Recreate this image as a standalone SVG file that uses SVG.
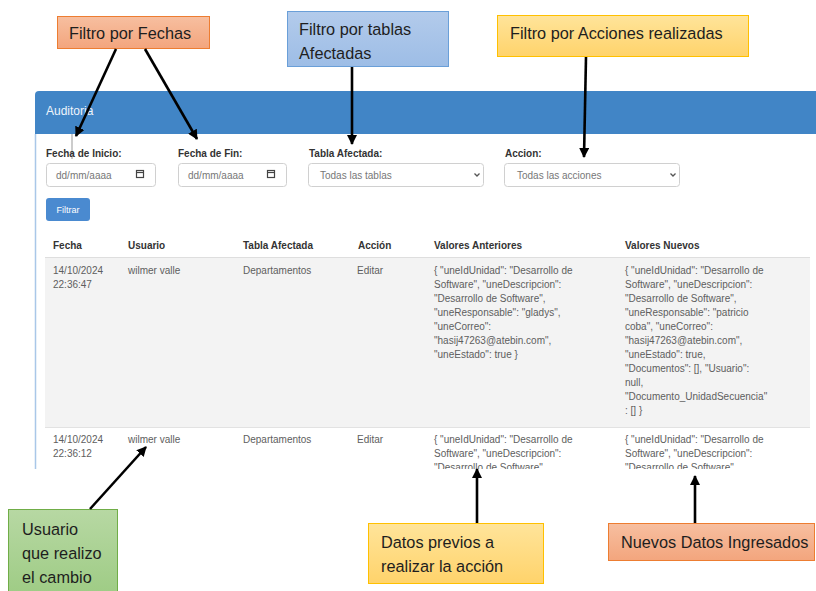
<svg xmlns="http://www.w3.org/2000/svg" width="816" height="591" viewBox="0 0 816 591">
<defs>
<style>
.ui{font-family:"Liberation Sans",Arial,sans-serif;font-size:10px;fill:#5e5e5e}
.lbl{font-family:"Liberation Sans",Arial,sans-serif;font-size:10px;font-weight:bold;fill:#333}
.ph{font-family:"Liberation Sans",Arial,sans-serif;font-size:10px;fill:#777}
.co{font-family:"Liberation Sans",Arial,sans-serif;font-size:16.3px;fill:#1e1e1e}
.inp{fill:#fff;stroke:#d0d0d0;stroke-width:1}
.conn{stroke:#000;stroke-width:2.6;fill:none}
</style>
<linearGradient id="gSal" x1="0" y1="0" x2="0" y2="1"><stop offset="0" stop-color="#f7bfa0"/><stop offset="1" stop-color="#f3a57d"/></linearGradient>
<linearGradient id="gBlue" x1="0" y1="0" x2="0" y2="1"><stop offset="0" stop-color="#b3cbeb"/><stop offset="1" stop-color="#9dbde6"/></linearGradient>
<linearGradient id="gYel" x1="0" y1="0" x2="0" y2="1"><stop offset="0" stop-color="#ffe49a"/><stop offset="1" stop-color="#ffd36b"/></linearGradient>
<linearGradient id="gGrn" x1="0" y1="0" x2="0" y2="1"><stop offset="0" stop-color="#b7d8a3"/><stop offset="1" stop-color="#9dcb83"/></linearGradient>
<marker id="ah" viewBox="0 0 10 10" refX="9" refY="5" markerWidth="10" markerHeight="10" markerUnits="userSpaceOnUse" orient="auto"><path d="M0,0 L10,5 L0,10 z" fill="#000"/></marker>
<clipPath id="shot"><rect x="0" y="88" width="816" height="381"/></clipPath>
</defs>

<g id="screenshot" clip-path="url(#shot)">
  <path d="M35,134 V95 a4,4 0 0 1 4,-4 H816 V134 Z" fill="#4185c6"/>
  <text x="46" y="115" font-family="Liberation Sans,Arial,sans-serif" font-size="12" fill="#eef4fb">Auditoria</text>
  <line x1="35.5" y1="134" x2="35.5" y2="470" stroke="#a9c7e8" stroke-width="1.5"/>
  <line x1="72" y1="134" x2="72" y2="159" stroke="#999" stroke-width="1"/>

  <text class="lbl" x="46" y="157">Fecha de Inicio:</text>
  <text class="lbl" x="178" y="157">Fecha de Fin:</text>
  <text class="lbl" x="309" y="157">Tabla Afectada:</text>
  <text class="lbl" x="505" y="157">Accion:</text>

  <rect class="inp" x="46.5" y="163.5" width="109" height="23" rx="3"/>
  <text class="ph" x="56" y="178.5">dd/mm/aaaa</text>
  <g fill="none" stroke="#444" stroke-width="1.2"><rect x="136.5" y="170.5" width="7" height="7"/><line x1="136.5" y1="172.5" x2="143.5" y2="172.5"/></g>
  <rect class="inp" x="178.5" y="163.5" width="108" height="23" rx="3"/>
  <text class="ph" x="188" y="178.5">dd/mm/aaaa</text>
  <g fill="none" stroke="#444" stroke-width="1.2"><rect x="267.5" y="170.5" width="7" height="7"/><line x1="267.5" y1="172.5" x2="274.5" y2="172.5"/></g>
  <rect class="inp" x="308.5" y="163.5" width="175" height="23" rx="3"/>
  <text class="ph" x="320" y="178.5">Todas las tablas</text>
  <polyline points="474.5,173.5 477,176 479.5,173.5" fill="none" stroke="#555" stroke-width="1.3"/>
  <rect class="inp" x="504.5" y="163.5" width="175" height="23" rx="3"/>
  <text class="ph" x="517" y="178.5">Todas las acciones</text>
  <polyline points="670.5,173.5 673,176 675.5,173.5" fill="none" stroke="#555" stroke-width="1.3"/>

  <rect x="46" y="198" width="44" height="23" rx="3" fill="#4a8ad0"/>
  <text x="68" y="213" text-anchor="middle" font-family="Liberation Sans,Arial,sans-serif" font-size="9" fill="#fff">Filtrar</text>

  <text class="lbl" x="53" y="249">Fecha</text>
  <text class="lbl" x="128" y="249">Usuario</text>
  <text class="lbl" x="243" y="249">Tabla Afectada</text>
  <text class="lbl" x="358" y="249">Acción</text>
  <text class="lbl" x="434" y="249">Valores Anteriores</text>
  <text class="lbl" x="625" y="249">Valores Nuevos</text>

  <rect x="45" y="257" width="765" height="170" fill="#f3f3f3"/>
  <line x1="45" y1="257.5" x2="810" y2="257.5" stroke="#dedede"/>
  <line x1="45" y1="427.5" x2="810" y2="427.5" stroke="#e2e2e2"/>

  <g class="ui">
    <text x="53" y="274">14/10/2024<tspan x="53" dy="14">22:36:47</tspan></text>
    <text x="128" y="274">wilmer valle</text>
    <text x="243" y="274">Departamentos</text>
    <text x="357" y="274">Editar</text>
    <text x="434" y="274">{ "uneIdUnidad": "Desarrollo de<tspan x="434" dy="14">Software", "uneDescripcion":</tspan><tspan x="434" dy="14">"Desarrollo de Software",</tspan><tspan x="434" dy="14">"uneResponsable": "gladys",</tspan><tspan x="434" dy="14">"uneCorreo":</tspan><tspan x="434" dy="14">"hasij47263@atebin.com",</tspan><tspan x="434" dy="14">"uneEstado": true }</tspan></text>
    <text x="625" y="274">{ "uneIdUnidad": "Desarrollo de<tspan x="625" dy="14">Software", "uneDescripcion":</tspan><tspan x="625" dy="14">"Desarrollo de Software",</tspan><tspan x="625" dy="14">"uneResponsable": "patricio</tspan><tspan x="625" dy="14">coba", "uneCorreo":</tspan><tspan x="625" dy="14">"hasij47263@atebin.com",</tspan><tspan x="625" dy="14">"uneEstado": true,</tspan><tspan x="625" dy="14">"Documentos": [], "Usuario":</tspan><tspan x="625" dy="14">null,</tspan><tspan x="625" dy="14">"Documento_UnidadSecuencia"</tspan><tspan x="625" dy="14">: [] }</tspan></text>

    <text x="53" y="443">14/10/2024<tspan x="53" dy="14">22:36:12</tspan></text>
    <text x="128" y="443">wilmer valle</text>
    <text x="243" y="443">Departamentos</text>
    <text x="357" y="443">Editar</text>
    <text x="434" y="443">{ "uneIdUnidad": "Desarrollo de<tspan x="434" dy="14">Software", "uneDescripcion":</tspan><tspan x="434" dy="14">"Desarrollo de Software",</tspan></text>
    <text x="625" y="443">{ "uneIdUnidad": "Desarrollo de<tspan x="625" dy="14">Software", "uneDescripcion":</tspan><tspan x="625" dy="14">"Desarrollo de Software",</tspan></text>
  </g>
</g>

<g id="node-fechas">
  <rect x="57.5" y="16.5" width="152" height="32" fill="url(#gSal)" stroke="#ed7d31" stroke-width="1"/>
  <text class="co" x="69" y="39">Filtro por Fechas</text>
</g>
<g id="node-tablas">
  <rect x="287.5" y="11.5" width="161" height="55" fill="url(#gBlue)" stroke="#6a9fd8" stroke-width="1"/>
  <text class="co" x="299" y="35">Filtro por tablas</text>
  <text class="co" x="299" y="59">Afectadas</text>
</g>
<g id="node-acciones">
  <rect x="497.5" y="15.5" width="251" height="41" fill="url(#gYel)" stroke="#ffc000" stroke-width="1"/>
  <text class="co" x="510" y="39">Filtro por Acciones realizadas</text>
</g>
<g id="node-usuario">
  <rect x="8.5" y="509.5" width="109" height="90" fill="url(#gGrn)" stroke="#70ad47" stroke-width="1"/>
  <text class="co" x="22" y="535">Usuario</text>
  <text class="co" x="22" y="559">que realizo</text>
  <text class="co" x="22" y="583">el cambio</text>
</g>
<g id="node-previos">
  <rect x="368.5" y="523.5" width="175" height="60" fill="url(#gYel)" stroke="#ffc000" stroke-width="1"/>
  <text class="co" x="381" y="548">Datos previos a</text>
  <text class="co" x="381" y="572">realizar la acción</text>
</g>
<g id="node-nuevos">
  <rect x="608.5" y="523.5" width="206" height="37" fill="url(#gSal)" stroke="#ed7d31" stroke-width="1"/>
  <text class="co" x="621" y="548">Nuevos Datos Ingresados</text>
</g>

<g id="connectors">
  <line class="conn" x1="116" y1="49" x2="76" y2="136" marker-end="url(#ah)"/>
  <line class="conn" x1="145" y1="49" x2="197" y2="139" marker-end="url(#ah)"/>
  <line class="conn" x1="352" y1="67" x2="352" y2="144" marker-end="url(#ah)"/>
  <line class="conn" x1="586" y1="57" x2="584" y2="157" marker-end="url(#ah)"/>
  <line class="conn" x1="90" y1="509" x2="146" y2="447" marker-end="url(#ah)"/>
  <line class="conn" x1="477" y1="523" x2="477" y2="469" marker-end="url(#ah)"/>
  <line class="conn" x1="695" y1="523" x2="695" y2="476" marker-end="url(#ah)"/>
</g>
</svg>
